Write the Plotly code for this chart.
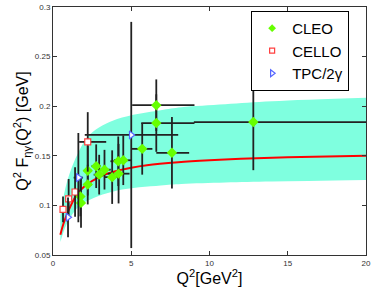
import plotly.graph_objects as go

# ---- data ----
cleo_q2 = [1.75, 1.79, 2.22, 2.22, 2.76, 2.95, 3.29, 3.78, 4.17, 4.19, 4.49, 5.70, 6.60, 6.60, 7.60, 12.80]
cleo_f = [0.109, 0.1025, 0.135, 0.121, 0.1395, 0.131, 0.136, 0.1285, 0.1445, 0.132, 0.1455, 0.157, 0.201, 0.183, 0.153, 0.184]
cleo_ey = [0.020, 0.025, 0.025, 0.020, 0.022, 0.020, 0.020, 0.027, 0.025, 0.030, 0.025, 0.026, 0.026, 0.029, 0.036, 0.0485]
cleo_ex_minus = [0.15, 0.15, 0.25, 0.25, 0.30, 0.35, 0.40, 0.50, 0.50, 0.70, 0.60, 0.65, 1.54, 0.96, 1.00, 3.80]
cleo_ex_plus = [0.15, 0.15, 0.25, 0.25, 0.30, 0.35, 0.40, 0.50, 0.50, 0.70, 0.50, 0.65, 2.44, 2.44, 1.10, 7.20]

cello_q2 = [0.64, 1.00, 1.41, 2.22]
cello_f = [0.096, 0.1066, 0.1135, 0.164]
cello_ey = [0.013, 0.020, 0.025, 0.030]
cello_ex_minus = [0.15, 0.20, 0.20, 0.55]
cello_ex_plus = [0.15, 0.20, 0.20, 1.18]

tpc_q2 = [0.96, 1.62, 5.00]
tpc_f = [0.088, 0.128, 0.171]
tpc_ey = [0.020, 0.045, 0.114]
tpc_ex_minus = [0.10, 0.30, 2.97]
tpc_ex_plus = [0.10, 0.30, 3.00]

curve_q2 = [0.47, 0.7, 1.0, 1.5, 2.0, 3.0, 4.0, 5.0, 6.0, 8.0, 10.0, 12.0, 15.0, 20.0]
curve_f = [0.0705, 0.083, 0.095, 0.1105, 0.119, 0.129, 0.1345, 0.138, 0.1405, 0.1435, 0.1455, 0.147, 0.1485, 0.150]

band_q2 = [0.47, 0.9, 1.64, 2.39, 4.1, 6.88, 8.2, 11.0, 14.0, 20.0]
band_hi = [0.090, 0.124, 0.154, 0.172, 0.187, 0.196, 0.199, 0.202, 0.205, 0.2085]
band_lo = [0.063, 0.082, 0.099, 0.106, 0.115, 0.120, 0.1215, 0.123, 0.124, 0.1255]

x_ticks = [0, 5, 10, 15, 20]
y_ticks = [0.05, 0.1, 0.15, 0.2, 0.25, 0.3]
y_tick_text = ["0.05", "0.1", "0.15", "0.2", "0.25", "0.3"]

FONT = "Liberation Sans, Arial, sans-serif"
ERR = "#222222"

fig = go.Figure()

# band
fig.add_trace(go.Scatter(x=band_q2, y=band_hi, mode="lines", line=dict(width=0, shape="spline"),
                         showlegend=False, hoverinfo="skip"))
fig.add_trace(go.Scatter(x=band_q2, y=band_lo, mode="lines", line=dict(width=0, shape="spline"),
                         fill="tonexty", fillcolor="#7fffdf", showlegend=False, hoverinfo="skip"))

# theory curve
fig.add_trace(go.Scatter(x=curve_q2, y=curve_f, mode="lines", line=dict(color="#ff0000", width=2, shape="spline"),
                         showlegend=False, hoverinfo="skip"))

def err(arr, arrm=None):
    d = dict(type="data", array=arr, color=ERR, thickness=1.8, width=0)
    if arrm is not None:
        d["arrayminus"] = arrm
        d["symmetric"] = False
    return d

series = [
    ("CLEO", cleo_q2, cleo_f, cleo_ey, cleo_ex_plus, cleo_ex_minus,
     dict(symbol="diamond", color="#66ff00", line=dict(width=0)), 8, 6),
    ("CELLO", cello_q2, cello_f, cello_ey, cello_ex_plus, cello_ex_minus,
     dict(symbol="square", color="white", line=dict(width=1.2, color="#ff4040")), 6, 5),
    ("TPC/2\u03b3", tpc_q2, tpc_f, tpc_ey, tpc_ex_plus, tpc_ex_minus,
     dict(symbol="triangle-right", color="white", line=dict(width=1.2, color="#5566ff")), 7, 6),
]

for name, xs, ys, ey, exp, exm, mk, size, lsize in series:
    fig.add_trace(go.Scatter(x=xs, y=ys, mode="markers", name=name, showlegend=False,
                             marker=dict(size=size, **mk),
                             error_y=err(ey), error_x=err(exp, exm)))

# legend-only entries with small symbols, as in the reference
for name, xs, ys, ey, exp, exm, mk, size, lsize in series:
    fig.add_trace(go.Scatter(x=[None], y=[None], mode="markers", name=name, showlegend=True,
                             marker=dict(size=lsize, **mk)))

axis_common = dict(showline=True, linecolor="#333333", linewidth=1, mirror="ticks", ticks="inside",
                   ticklen=4, tickcolor="#333333", showgrid=False, zeroline=False,
                   tickfont=dict(family=FONT, size=8, color="#333333"), automargin=False)

fig.update_layout(
    width=374, height=287,
    margin=dict(l=53, r=8, t=7, b=32),
    paper_bgcolor="white", plot_bgcolor="white",
    font=dict(family=FONT, color="black"),
    xaxis=dict(range=[0, 20], tickvals=x_ticks, ticktext=[str(v) for v in x_ticks],
               title=dict(text="Q<sup>2</sup>[GeV<sup>2</sup>]", font=dict(size=16), standoff=0), **axis_common),
    yaxis=dict(range=[0.05, 0.3], tickvals=y_ticks, ticktext=y_tick_text,
               title=dict(text="Q<sup>2</sup> F<sub>\u03b7\u03b3</sub>(Q<sup>2</sup>) [GeV]", font=dict(size=16), standoff=2),
               **axis_common),
    legend=dict(x=0.633, y=0.984, xanchor="left", yanchor="top", bgcolor="white",
                bordercolor="black", borderwidth=1, font=dict(family=FONT, size=15),
                itemsizing="trace", traceorder="normal", tracegroupgap=0, itemwidth=30),
    showlegend=True,
)

fig.write_html("out.html", config={"displayModeBar": False},
               post_script="document.body.style.margin='0';document.body.style.padding='0';")
